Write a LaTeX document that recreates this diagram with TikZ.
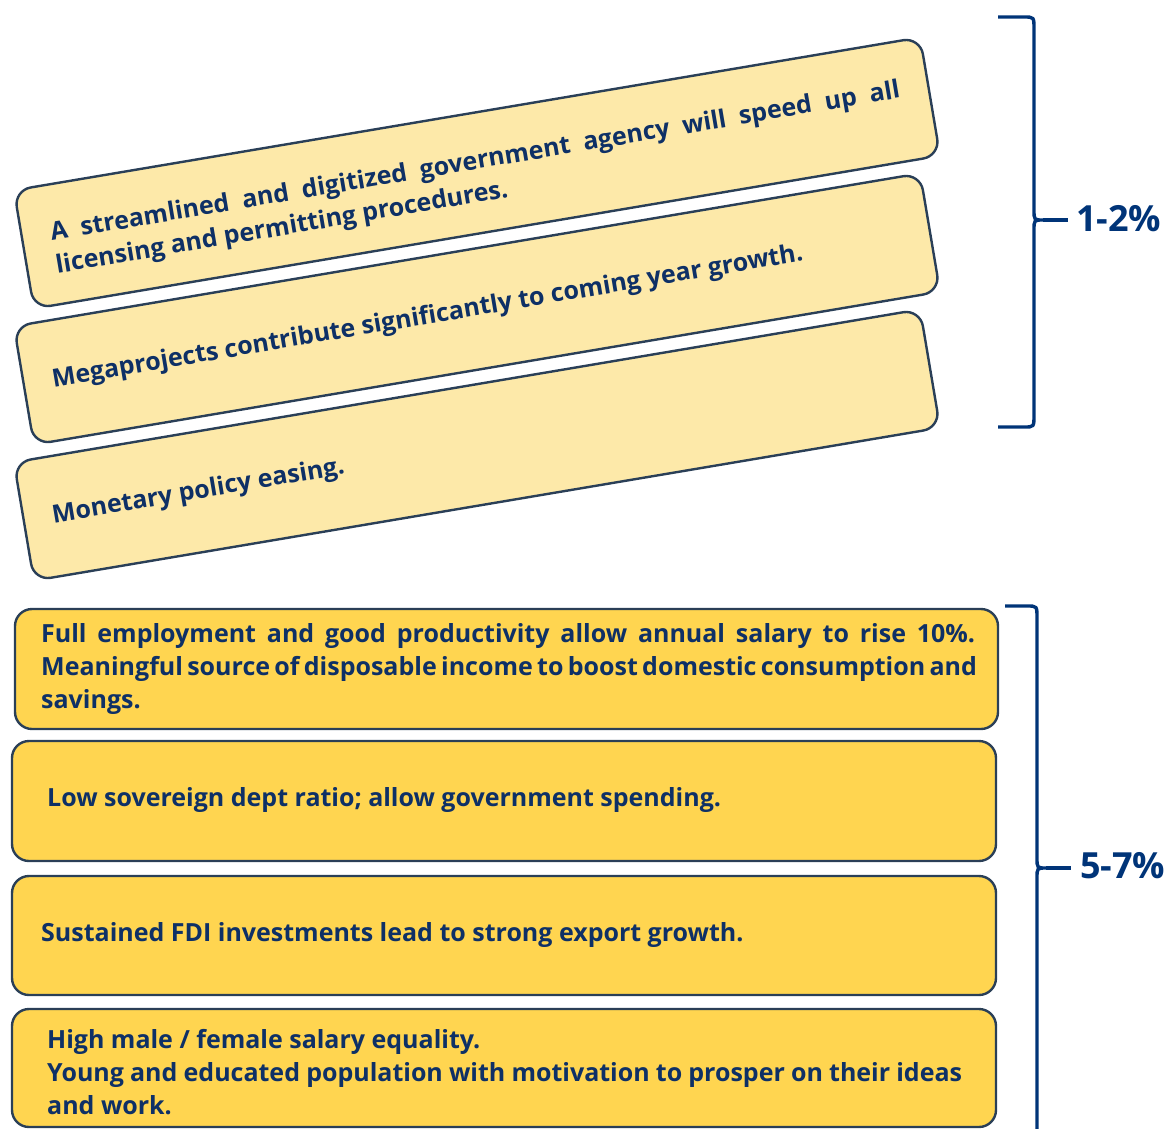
\documentclass[tikz,border=0pt]{standalone}
\usepackage{fontspec}
\setmainfont{Open Sans}
\definecolor{paleyellow}{HTML}{FDE9A9}
\definecolor{gold}{HTML}{FFD550}
\definecolor{edge}{HTML}{2A3F57}
\definecolor{ink}{HTML}{0E3066}
\definecolor{navy}{HTML}{003478}
\begin{document}
\begin{tikzpicture}[x=1pt,y=-1pt,
  tilted/.style={draw=edge, line width=2.4pt, fill=paleyellow, rounded corners=17pt,
    rotate=9.58, minimum width=919pt, minimum height=120pt, inner sep=0pt},
  flatbox/.style={draw=edge, line width=2.4pt, fill=gold, rounded corners=17pt, inner sep=0pt},
  txt/.style={text=ink, font=\bfseries\fontsize{25}{33}\selectfont, inner sep=0pt, align=left},
  pct/.style={text=navy, font=\bfseries\fontsize{36}{40}\selectfont, anchor=west, inner sep=0pt},
  brace/.style={draw=navy, line width=3.4pt}
]
\useasboundingbox (0,0) rectangle (1176,1128);
\clip (0,0) rectangle (1176,1128);

% tilted drivers (upper group)
\node[tilted] (a1) at (477,173) {};
\node[tilted] (a2) at (477,309) {};
\node[tilted] (a3) at (477,445) {};
\node[txt, rotate=9.58] (ta1) at (478,179)
  {\makebox[861pt][s]{A streamlined and digitized government agency will speed up all}\\
   licensing and permitting procedures.};
\node[txt, rotate=9.58] (ta2) at (a2.center)
  {\makebox[861pt][l]{Megaprojects contribute significantly to coming year growth.}};
\node[txt, rotate=9.58] (ta3) at (a3.center)
  {\makebox[861pt][l]{Monetary policy easing.}};

% flat drivers (lower group)
\node[flatbox, minimum width=983pt, minimum height=120pt] (b1) at (506.5,669) {};
\node[flatbox, minimum width=984pt, minimum height=120pt] (b2) at (504,801) {};
\node[flatbox, minimum width=984pt, minimum height=119pt] (b3) at (504,935.5) {};
\node[flatbox, minimum width=984pt, minimum height=118pt] (b4) at (504,1068) {};

\node[txt, anchor=west] (tb1) at (41,669)
  {\makebox[934pt][s]{Full employment and good productivity allow annual salary to rise 10\%.}\\
   \makebox[934pt][s]{Meaningful source of disposable income to boost domestic consumption and}\\
   savings.};
\node[txt, anchor=west] (tb2) at (47,800) {Low sovereign dept ratio; allow government spending.};
\node[txt, anchor=west] (tb3) at (41,935) {Sustained FDI investments lead to strong export growth.};
\node[txt, anchor=west] (tb4) at (47,1072)
  {High male / female salary equality.\\
   \makebox[915pt][s]{Young and educated population with motivation to prosper on their ideas}\\
   and work.};

% braces with their ranges
\coordinate (p1) at (1043,220);
\coordinate (q1) at (1068,220);
\draw[brace] (998,17) -- (1024,17) .. controls (1034,17) .. (1034,29)
  -- (1034,210) .. controls (1034,220) .. (p1)
  .. controls (1034,220) .. (1034,230)
  -- (1034,415) .. controls (1034,427) .. (1024,427) -- (998,427);
\draw[brace] (p1) -- (q1);
\node[pct] (r1) at (1076,219) {1-2\%};

\coordinate (p2) at (1046,868);
\coordinate (q2) at (1071,868);
\draw[brace] (1005,606) -- (1027,606) .. controls (1037,606) .. (1037,618)
  -- (1037,858) .. controls (1037,868) .. (p2)
  .. controls (1037,868) .. (1037,878)
  -- (1037,1140);
\draw[brace] (p2) -- (q2);
\node[pct] (r2) at (1080,866) {5-7\%};
\end{tikzpicture}
\end{document}
